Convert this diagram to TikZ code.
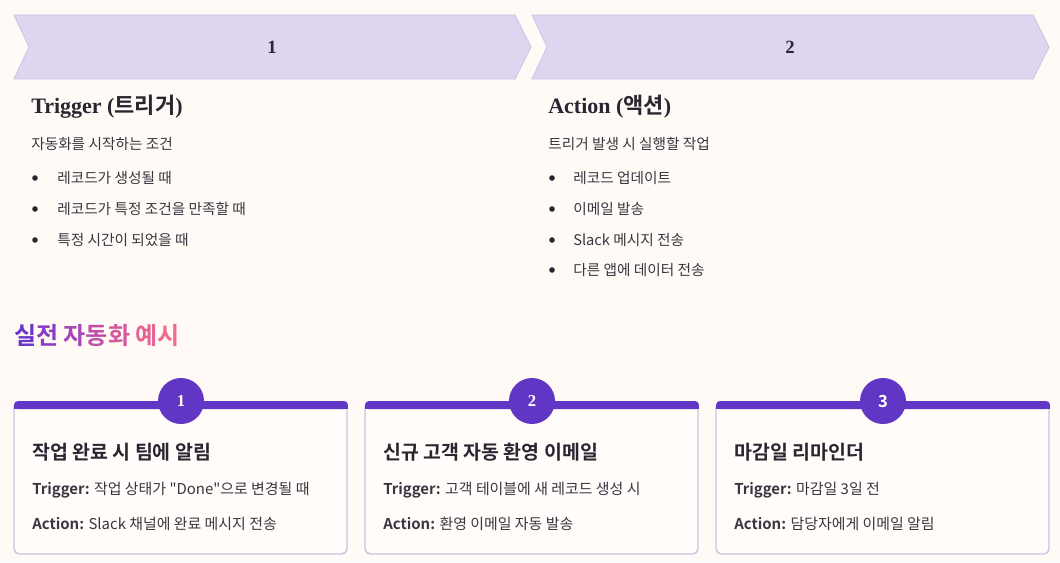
\documentclass[tikz,border=0pt]{standalone}
\usepackage{fontspec}
\setmainfont{Noto Sans CJK KR}[BoldFont={Noto Sans CJK KR Bold},Ligatures=TeXOff]
\newfontfamily\serifb{Liberation Serif}[BoldFont={Liberation Serif Bold}]
\definecolor{bg}{HTML}{FFFAF6}
\definecolor{chevfill}{HTML}{DED6F0}
\definecolor{chevline}{HTML}{CBC1E4}
\definecolor{ink}{HTML}{2A2530}
\definecolor{body}{HTML}{3A3540}
\definecolor{vio}{HTML}{6236C4}
\definecolor{cardline}{HTML}{CCC3E2}
\definecolor{cardfill}{HTML}{FFFCFA}
\definecolor{g1}{HTML}{6A35C8}
\definecolor{g2}{HTML}{8A3CC2}
\definecolor{g3}{HTML}{A645B8}
\definecolor{g4}{HTML}{C04EAA}
\definecolor{g5}{HTML}{D4589E}
\definecolor{g6}{HTML}{E66292}
\definecolor{g7}{HTML}{F06C88}
\newcommand{\dq}{\symbol{34}}
\begin{document}
\begin{tikzpicture}[x=0.75pt,y=-0.75pt,
  chev/.style={fill=chevfill,draw=chevline,line width=0.6pt},
  chevnum/.style={font=\serifb\bfseries\fontsize{14}{16}\selectfont,text=ink},
  colhead/.style={anchor=west,inner sep=0pt,font=\fontsize{16.5}{19}\selectfont\bfseries,text=ink},
  colsub/.style={anchor=west,inner sep=0pt,font=\fontsize{11}{13}\selectfont,text=body},
  bul/.style={circle,fill=ink,inner sep=0pt,minimum size=4.2pt},
  item/.style={anchor=west,inner sep=0pt,font=\fontsize{11}{13}\selectfont,text=body},
  card/.style={draw=cardline,fill=cardfill,line width=1.1pt,rounded corners=4pt},
  numc/.style={circle,fill=vio,minimum size=34.5pt,inner sep=0pt,text=white,font=\serifb\bfseries\fontsize{12.5}{14}\selectfont},
  ctitle/.style={anchor=west,inner sep=0pt,font=\fontsize{14.6}{17}\selectfont\bfseries,text=ink},
  cline/.style={anchor=west,inner sep=0pt,font=\fontsize{11.2}{13}\selectfont,text=body}]
\fill[bg] (0,0) rectangle (1060,562);
\useasboundingbox (0,0) rectangle (1060,562);
% chevrons
\draw[chev] (14,15) -- (515,15) -- (531,47) -- (515,79) -- (14,79) -- (29,47) -- cycle;
\draw[chev] (532,15) -- (1033,15) -- (1049,47) -- (1033,79) -- (532,79) -- (547,47) -- cycle;
\node[chevnum] (n1) at (272,47) {1};
\node[chevnum] (n2) at (790,47) {2};
% left column
\node[colhead] (h1) at (31,107) {{\serifb\bfseries Trigger (}트리거{\serifb\bfseries )}};
\node[colsub] (s1) at (31,144) {자동화를 시작하는 조건};
\foreach \y/\t [count=\i] in {178/레코드가 생성될 때,209/레코드가 특정 조건을 만족할 때,240/특정 시간이 되었을 때}{
  \node[bul] (lb\i) at (35,\y) {};
  \node[item] (lt\i) at (57,\y) {\t};
}
% right column
\node[colhead] (h2) at (548,107) {{\serifb\bfseries Action (}액션{\serifb\bfseries )}};
\node[colsub] (s2) at (548,144) {트리거 발생 시 실행할 작업};
\foreach \y/\t [count=\i] in {178/레코드 업데이트,209/이메일 발송,240/Slack 메시지 전송,270/다른 앱에 데이터 전송}{
  \node[bul] (rb\i) at (552,\y) {};
  \node[item] (rt\i) at (573,\y) {\t};
}
% section title
\node[anchor=west,inner sep=0pt,font=\fontsize{18}{22}\selectfont\bfseries] (sec) at (14,336)
 {\textcolor{g1}{실}\textcolor{g2}{전} \textcolor{g3}{자}\textcolor{g4}{동}\textcolor{g5}{화} \textcolor{g6}{예}\textcolor{g7}{시}};
% cards
\foreach \x/\n/\num/\ti/\tr/\ac in {
  14/1/{1}/작업 완료 시 팀에 알림/{작업 상태가 \dq Done\dq 으로 변경될 때}/{Slack 채널에 완료 메시지 전송},
  365/2/{2}/신규 고객 자동 환영 이메일/{고객 테이블에 새 레코드 생성 시}/{환영 이메일 자동 발송},
  716/3/{\normalfont\bfseries 3}/마감일 리마인더/{마감일 3일 전}/{담당자에게 이메일 알림}}{
  \draw[card] (\x,402) rectangle ({\x+333},554);
  \fill[vio,rounded corners=3pt] (\x,401) rectangle ({\x+334},409);
  \fill[vio] (\x,405) rectangle ({\x+334},409);
  \node[numc] (c\n) at ({\x+167},401) {\num};
  \node[ctitle] (t\n) at ({\x+18},452) {\ti};
  \node[cline] (tr\n) at ({\x+18},490) {\textbf{Trigger:} \tr};
  \node[cline] (ac\n) at ({\x+18},524) {\textbf{Action:} \ac};
}
\end{tikzpicture}
\end{document}
